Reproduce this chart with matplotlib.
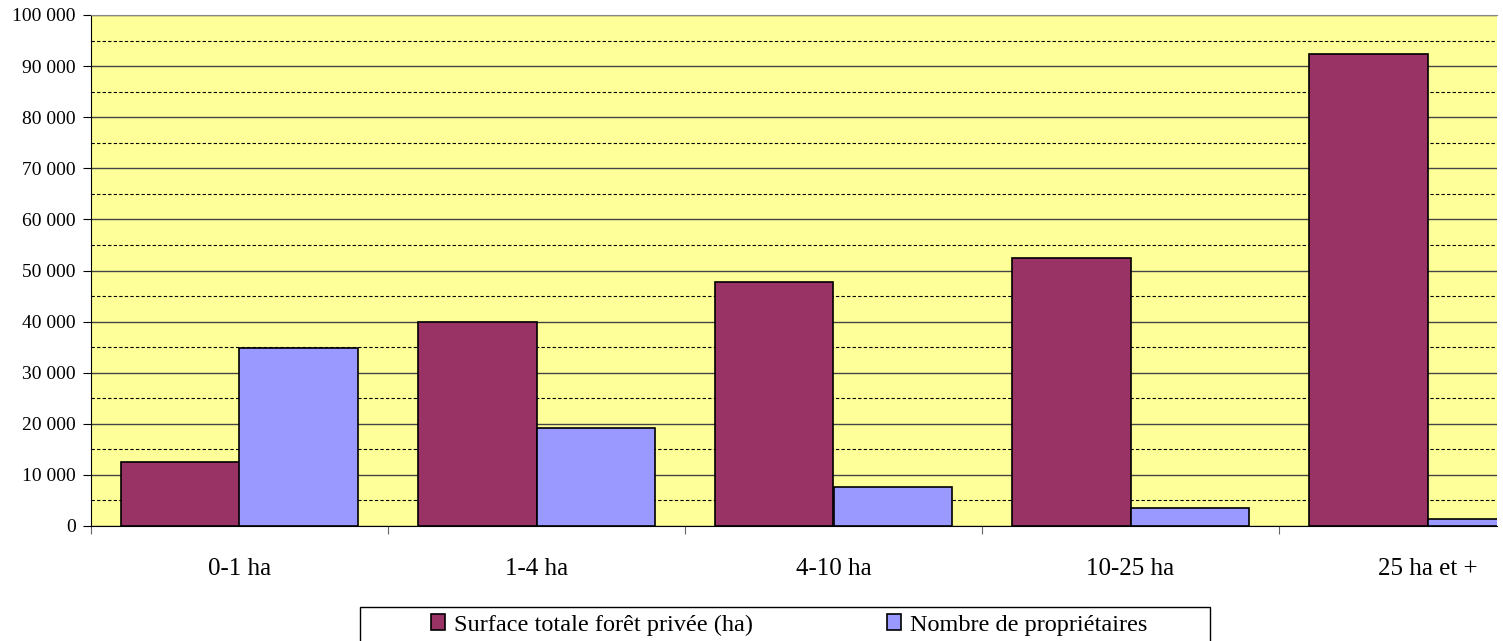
import matplotlib.pyplot as plt
import numpy as np
from matplotlib.patches import Rectangle
from matplotlib.ticker import MultipleLocator, FuncFormatter

categories = ["0-1 ha", "1-4 ha", "4-10 ha", "10-25 ha", "25 ha et +"]
surface = [12500, 40000, 47800, 52500, 92300]
proprietaires = [34800, 19100, 7700, 3500, 1300]
series_names = ["Surface totale forêt privée (ha)", "Nombre de propriétaires"]

plt.rcParams["font.family"] = ["Liberation Serif", "DejaVu Serif"]

W, H = 1503, 641
fig = plt.figure(figsize=(W / 100, H / 100), dpi=100)
ax = fig.add_axes([91 / W, 1 - 526 / H, (1497 - 91) / W, (526 - 15) / H])
ax.set_facecolor("#FFFF99")

x = np.arange(len(categories)) + 0.5
w = 0.4
ax.bar(x - w / 2, surface, w, color="#993366", edgecolor="black", linewidth=1.2,
       label=series_names[0], zorder=3)
ax.bar(x + w / 2, proprietaires, w, color="#9999FF", edgecolor="black", linewidth=1.2,
       label=series_names[1], zorder=3)

ax.set_xlim(0, (1497 - 91) / 297)
ax.set_ylim(0, 100000)

ax.yaxis.set_major_locator(MultipleLocator(10000))
ax.yaxis.set_minor_locator(MultipleLocator(5000))
ax.yaxis.set_major_formatter(FuncFormatter(lambda v, p: f"{int(v):,}".replace(",", " ")))
ax.grid(axis="y", which="major", color="#444444", linewidth=1, zorder=1)
ax.grid(axis="y", which="minor", color="black", linestyle=(0, (3, 2)), linewidth=0.8, zorder=1)
ax.tick_params(axis="y", which="major", length=6, labelsize=14, pad=5)
ax.tick_params(axis="y", which="minor", length=0)

ax.set_xticks(np.arange(0, 5))
ax.set_xticklabels([])
ax.set_xticks(x, minor=True)
ax.set_xticklabels(categories, minor=True)
ax.tick_params(axis="x", which="major", length=6, direction="out", color="#666666")
ax.tick_params(axis="x", which="minor", length=0, labelsize=18, pad=23)

ax.spines["top"].set_color("#888888")
ax.spines["right"].set_visible(False)
ax.spines["left"].set_color("black")
ax.spines["bottom"].set_color("black")

# legend frame drawn separately (wide horizontal padding, clipped at bottom)
fig.patches.append(Rectangle((360 / W, -0.05), (1210 - 360) / W, 0.05 + 1 - 607 / H,
                             transform=fig.transFigure, facecolor="white",
                             edgecolor="black", linewidth=1.0, zorder=0))
leg = fig.legend(loc="center", bbox_to_anchor=(789 / W, 1 - 625 / H), ncol=2,
                 fontsize=17.5, frameon=False,
                 handlelength=0.58, handleheight=0.58, handletextpad=0.37,
                 columnspacing=5.5, borderpad=0.2)

fig.savefig("out.png", dpi=100)
